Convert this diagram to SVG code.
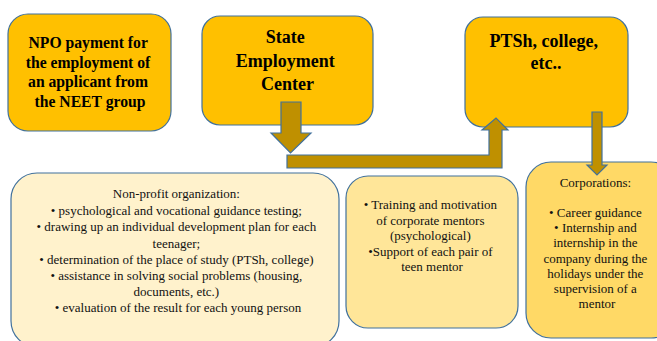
<svg xmlns="http://www.w3.org/2000/svg" width="657" height="341" viewBox="0 0 657 341">
<style>
.top{fill:#FFC000;stroke:#41719C;stroke-width:1.2}
.arr{fill:#BF9000;stroke:#41719C;stroke-width:1.2;stroke-linejoin:miter}
.b{font-family:'Liberation Serif','Times New Roman',serif;font-weight:bold;fill:#000;text-anchor:middle}
.r{font-family:'Liberation Serif','Times New Roman',serif;font-size:13px;fill:#111;text-anchor:middle}
</style>
<rect width="657" height="341" fill="#fff"/>
<g id="npo-payment">
<rect class="top" x="8" y="14" width="163" height="117" rx="20"/>
<text class="b" font-size="15.7">
<tspan x="90" y="48">NPO payment for</tspan>
<tspan x="90" y="68">the employment of</tspan>
<tspan x="90" y="87">an applicant from</tspan>
<tspan x="90" y="107">the NEET group</tspan>
</text>
</g>
<g id="state-employment-center">
<rect class="top" x="202" y="16" width="171" height="109" rx="18"/>
<text class="b" font-size="18">
<tspan x="287.5" y="43">State</tspan>
<tspan x="287.5" y="67">Employment</tspan>
<tspan x="287.5" y="90">Center</tspan>
</text>
</g>
<g id="ptsh-college">
<rect class="top" x="465" y="17" width="163" height="110" rx="18"/>
<text class="b" font-size="18">
<tspan x="546" y="47">PTSh, college,</tspan>
<tspan x="546" y="69">etc..</tspan>
</text>
</g>
<g id="non-profit-organization">
<rect x="11" y="173" width="328" height="174" rx="26" fill="#FFF2CC" stroke="#41719C" stroke-width="1.2"/>
<text class="r">
<tspan x="178" y="198">Non-profit organization:</tspan>
<tspan x="178" y="214.5">• psychological and vocational guidance testing;</tspan>
<tspan x="178" y="231">• drawing up an individual development plan for each</tspan>
<tspan x="178" y="247.5">teenager;</tspan>
<tspan x="178" y="264">• determination of the place of study (PTSh, college)</tspan>
<tspan x="178" y="280">• assistance in solving social problems (housing,</tspan>
<tspan x="178" y="296">documents, etc.)</tspan>
<tspan x="178" y="312">• evaluation of the result for each young person</tspan>
</text>
</g>
<g id="mentor-training">
<rect x="346" y="176" width="172" height="152" rx="22" fill="#FFE699" stroke="#41719C" stroke-width="1.2"/>
<text class="r">
<tspan x="432" y="209">• Training and motivation</tspan>
<tspan x="432" y="224.5">of corporate mentors</tspan>
<tspan x="432" y="240">(psychological)</tspan>
<tspan x="432" y="255.5">•Support of each pair of</tspan>
<tspan x="432" y="271">teen mentor</tspan>
</text>
</g>
<g id="corporations">
<rect x="526" y="162" width="150" height="176" rx="25" fill="#FFD966" stroke="#41719C" stroke-width="1.2"/>
<text class="r">
<tspan x="597" y="187">Corporations:</tspan>
<tspan x="597" y="217">• Career guidance</tspan>
<tspan x="597" y="232">• Internship and</tspan>
<tspan x="597" y="247">internship in the</tspan>
<tspan x="597" y="262.5">company during the</tspan>
<tspan x="597" y="277.5">holidays under the</tspan>
<tspan x="597" y="292.5">supervision of a</tspan>
<tspan x="597" y="308">mentor</tspan>
</text>
</g>
<g id="connectors">
<polygon class="arr" points="281,102 301,102 301,133 311,133 290.5,153 271,133 281,133"/>
<polygon class="arr" points="287,155 489,155 489,130 482,130 496,118 508,130 502,130 502,168 287,168"/>
<polygon class="arr" points="592,112 602,112 602,165 607,165 597,175 587,165 592,165"/>
</g>
</svg>
